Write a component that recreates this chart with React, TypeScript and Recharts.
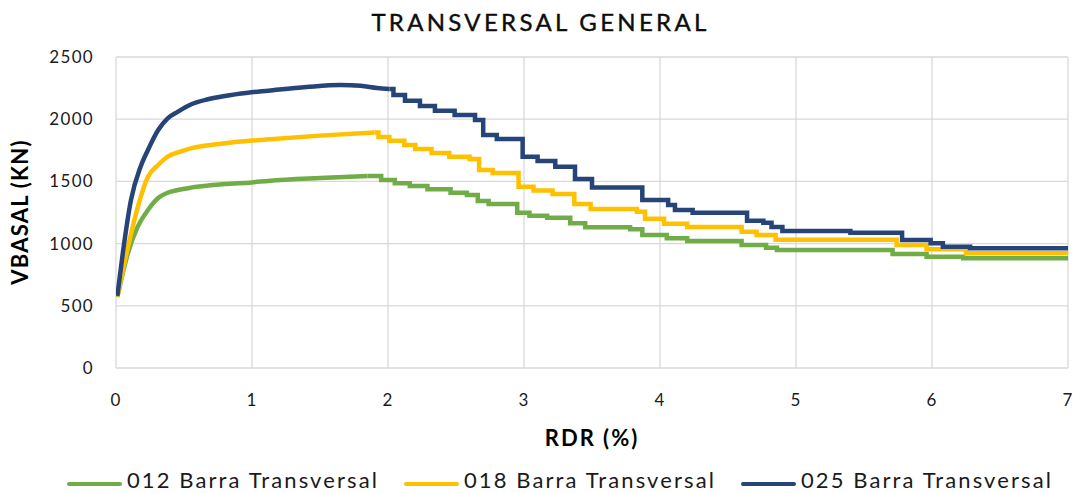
import React from 'react';
import { LineChart, Line, XAxis, YAxis, CartesianGrid } from 'recharts';

const xTicks = [0, 1, 2, 3, 4, 5, 6, 7];
const yTicks = [0, 500, 1000, 1500, 2000, 2500];
const seriesNames = ['012 Barra Transversal', '018 Barra Transversal', '025 Barra Transversal'];
const seriesColors = ['#70AD47', '#FFC000', '#264478'];

// [RDR %, VBASAL kN] — smooth rising branch
const rise012 = [
  [0.01, 570], [0.088, 924], [0.16, 1136], [0.235, 1270], [0.31, 1366], [0.38, 1409],
  [0.456, 1431], [0.55, 1450], [0.8, 1479], [1.0, 1492], [1.12, 1504], [1.5, 1527], [1.85, 1543],
];
// stepped softening branch
const steps012 = [
  [1.85, 1543], [1.95, 1511], [2.05, 1485], [2.16, 1463], [2.29, 1437], [2.46, 1409],
  [2.58, 1391], [2.66, 1342], [2.74, 1318], [2.95, 1248], [3.04, 1224], [3.17, 1208],
  [3.34, 1163], [3.45, 1131], [3.78, 1115], [3.87, 1069], [4.05, 1043], [4.2, 1020],
  [4.6, 989], [4.78, 967], [4.86, 949], [5.71, 917], [5.96, 895], [6.23, 882], [7.0, 882],
];

const rise018 = [
  [0.01, 575], [0.088, 973], [0.16, 1294], [0.235, 1538], [0.31, 1632], [0.38, 1699],
  [0.456, 1734], [0.55, 1766], [0.8, 1806], [1.0, 1828], [1.12, 1838], [1.5, 1868], [1.9, 1893],
];
const steps018 = [
  [1.9, 1893], [1.93, 1857], [2.01, 1827], [2.12, 1793], [2.2, 1760], [2.32, 1728],
  [2.45, 1699], [2.6, 1680], [2.67, 1592], [2.77, 1567], [2.96, 1458], [3.07, 1426],
  [3.21, 1399], [3.37, 1318], [3.49, 1278], [3.83, 1257], [3.89, 1200], [4.03, 1160],
  [4.2, 1134], [4.6, 1096], [4.71, 1069], [4.85, 1030], [5.74, 989], [5.96, 954],
  [6.25, 922], [7.0, 922],
];

const rise025 = [
  [0.01, 580], [0.05, 924], [0.11, 1350], [0.18, 1616], [0.235, 1753], [0.31, 1913],
  [0.38, 2007], [0.456, 2061], [0.554, 2120], [0.676, 2160], [0.8, 2187], [0.97, 2213],
  [1.12, 2229], [1.4, 2258], [1.65, 2275], [1.8, 2268], [1.92, 2251], [2.01, 2243],
];
const steps025 = [
  [2.01, 2243], [2.04, 2195], [2.125, 2149], [2.235, 2106], [2.345, 2068], [2.49, 2034],
  [2.64, 1994], [2.7, 1873], [2.8, 1841], [2.99, 1699], [3.1, 1664], [3.23, 1618],
  [3.375, 1519], [3.5, 1450], [3.87, 1350], [4.06, 1310], [4.11, 1270], [4.24, 1248],
  [4.64, 1184], [4.76, 1168], [4.82, 1133], [4.9, 1101], [5.4, 1088], [5.78, 1029],
  [5.99, 1002], [6.08, 975], [6.28, 962], [7.0, 962],
];

const toPts = (arr: number[][]) => arr.map(([x, y]) => ({ x, y }));

const series = [
  { rise: toPts(rise012), steps: toPts(steps012) },
  { rise: toPts(rise018), steps: toPts(steps018) },
  { rise: toPts(rise025), steps: toPts(steps025) },
];

const FONT = 'Lato, "Noto Sans", sans-serif';
const legendLeft = [67, 404, 741];

export default function App() {
  return (
    <div
      style={{
        position: 'absolute',
        left: 0,
        top: 0,
        width: 1081,
        height: 493,
        background: '#ffffff',
        fontFamily: FONT,
        color: '#000',
        overflow: 'hidden',
      }}
    >
      <LineChart
        width={1081}
        height={493}
        margin={{ top: 57, right: 13, bottom: 95, left: 0 }}
      >
        <CartesianGrid stroke="#d9d9d9" strokeWidth={1.3} />
        <XAxis
          type="number"
          dataKey="x"
          domain={[0, 7]}
          ticks={xTicks}
          allowDataOverflow
          axisLine={false}
          tickLine={false}
          tickSize={0}
          tickMargin={26}
          height={30}
          tick={{ fill: '#1a1a1a', fontSize: 17, fontFamily: FONT, letterSpacing: 1.3 }}
        />
        <YAxis
          type="number"
          domain={[0, 2500]}
          ticks={yTicks}
          allowDataOverflow
          axisLine={false}
          tickLine={false}
          tickSize={0}
          tickMargin={22}
          width={116}
          tick={{ fill: '#1a1a1a', fontSize: 17, fontFamily: FONT, letterSpacing: 1.3 }}
        />
        {series.map((s, i) => (
          <Line
            key={`r${i}`}
            data={s.rise}
            dataKey="y"
            type="monotone"
            stroke={seriesColors[i]}
            strokeWidth={4.5}
            dot={false}
            activeDot={false}
            legendType="none"
            isAnimationActive={false}
            name={seriesNames[i]}
          />
        ))}
        {series.map((s, i) => (
          <Line
            key={`s${i}`}
            data={s.steps}
            dataKey="y"
            type="stepAfter"
            stroke={seriesColors[i]}
            strokeWidth={4.5}
            dot={false}
            activeDot={false}
            legendType="none"
            isAnimationActive={false}
            name={seriesNames[i]}
          />
        ))}
      </LineChart>

      <div
        style={{
          position: 'absolute',
          left: 0,
          top: 10,
          width: 1081,
          textAlign: 'center',
          fontSize: 24,
          lineHeight: '24px',
          letterSpacing: 3.3,
          color: '#0d0d0d',
          WebkitTextStroke: '0.4px #0d0d0d',
        }}
      >
        TRANSVERSAL GENERAL
      </div>

      <div
        style={{
          position: 'absolute',
          left: -80,
          top: 200,
          width: 200,
          height: 24,
          lineHeight: '24px',
          textAlign: 'center',
          fontSize: 22,
          fontWeight: 700,
          letterSpacing: 1.2,
          transform: 'rotate(-90deg)',
        }}
      >
        VBASAL (KN)
      </div>

      <div
        style={{
          position: 'absolute',
          left: 492,
          top: 427,
          width: 200,
          textAlign: 'center',
          fontSize: 22,
          lineHeight: '22px',
          fontWeight: 700,
          letterSpacing: 2,
        }}
      >
        RDR (%)
      </div>

      {seriesNames.map((name, i) => (
        <div
          key={name}
          style={{
            position: 'absolute',
            left: legendLeft[i],
            top: 469,
            height: 22,
            display: 'flex',
            alignItems: 'center',
            whiteSpace: 'nowrap',
          }}
        >
          <div
            style={{
              width: 55,
              height: 4.5,
              background: seriesColors[i],
              borderRadius: 2,
              marginTop: 8,
            }}
          />
          <span
            style={{
              marginLeft: 5,
              fontSize: 22,
              lineHeight: '22px',
              letterSpacing: 2.1,
              color: '#1a1a1a',
            }}
          >
            {name}
          </span>
        </div>
      ))}
    </div>
  );
}
